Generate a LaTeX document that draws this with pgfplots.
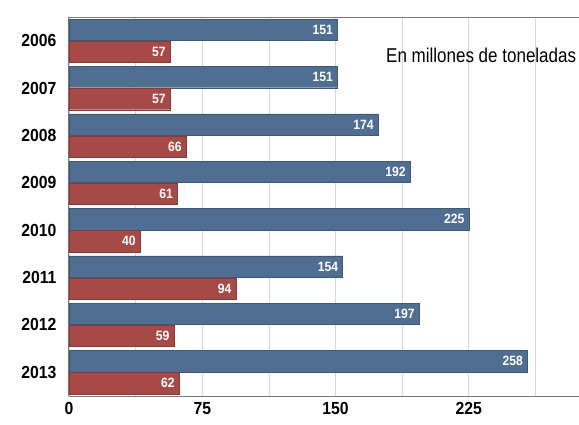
\documentclass[border=0pt]{standalone}
\usepackage{pgfplots}
\pgfplotsset{compat=1.18}
\usepackage{fontspec}
\setmainfont{Liberation Sans}
\newfontfamily\condfont[FakeStretch=0.85]{Liberation Sans}
\newfontfamily\condbold[FakeStretch=0.9]{Liberation Sans Bold}
\definecolor{barblue}{RGB}{79,110,145}
\definecolor{barred}{RGB}{166,74,72}
\definecolor{gridgray}{RGB}{215,215,215}
\definecolor{axgray}{RGB}{120,120,120}
\begin{document}
\begin{tikzpicture}
\useasboundingbox (0,0) rectangle (579pt,425pt);
\begin{axis}[
  at={(69pt,29pt)}, anchor=south west,
  scale only axis, width=510pt, height=379pt,
  xbar, y dir=reverse,
  xmin=0, xmax=287, ymin=-0.5, ymax=7.5,
  ytick={0,...,7}, yticklabels={2006,2007,2008,2009,2010,2011,2012,2013},
  xtick={0,75,150,225},
  minor xtick={37.5,112.5,187.5,262.5},
  xmajorgrids, xminorgrids,
  major grid style={gridgray, line width=0.8pt},
  minor grid style={gridgray, line width=0.8pt},
  major tick length=0pt, minor tick length=0pt,
  axis x line*=bottom, axis y line*=left,
  axis line style={axgray, line width=1pt, -},
  tick label style={font=\condbold\fontsize{17.5}{17.5}\selectfont, black},
  xticklabel style={yshift=-3pt},
  yticklabel style={xshift=-9pt},
  /pgf/number format/assume math mode=true,
  bar width=0.45,
  nodes near coords,
  every node near coord/.append style={anchor=east, xshift=-1pt, font=\condbold\fontsize{13.5}{13.5}\selectfont, white},
  clip=false,
]
\addplot[fill=barblue, draw=barblue!80!black, bar shift=-0.232] coordinates {
  (151,0) (151,1) (174,2) (192,3) (225,4) (154,5) (197,6) (258,7)};
\addplot[fill=barred, draw=barred!80!black, bar shift=0.232] coordinates {
  (57,0) (57,1) (66,2) (61,3) (40,4) (94,5) (59,6) (62,7)};
\draw[axgray, line width=1pt] (axis cs:0,-0.5) -- (axis cs:287,-0.5);
\node[anchor=east, font=\condfont\fontsize{20}{20}\selectfont, text=black, inner sep=0pt] at (axis cs:285.5,0.30) {En millones de toneladas};
\end{axis}
\end{tikzpicture}
\end{document}
